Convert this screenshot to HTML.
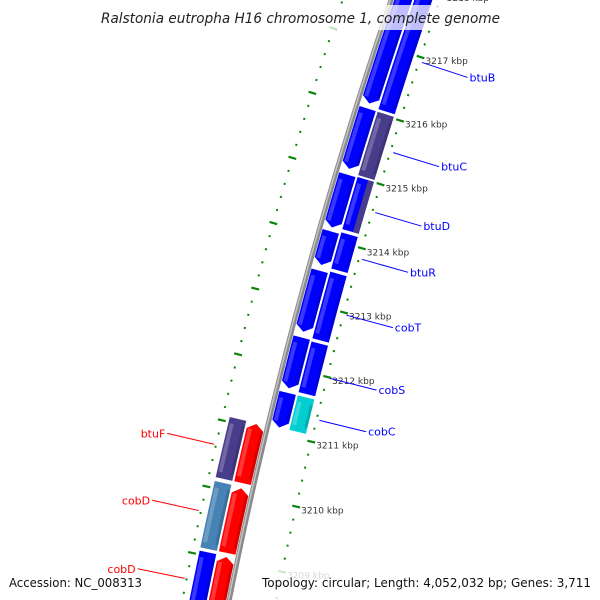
<!DOCTYPE html>
<html><head><meta charset="utf-8"><style>
html,body{margin:0;padding:0;background:#fff;overflow:hidden;}
svg{display:block;font-family:"DejaVu Sans","Liberation Sans",sans-serif;}
</style></head><body>
<svg id="map" width="600" height="600" viewBox="0 0 600 600" xmlns="http://www.w3.org/2000/svg">
<rect width="600" height="600" fill="#fff"/>
<g id="track"></g>
<g id="labels"></g>
<rect x="99" y="5" width="404" height="25" fill="#fff" opacity="0.75"/>
<text x="101" y="23" font-size="14" font-style="italic" fill="#222" textLength="399" lengthAdjust="spacingAndGlyphs">Ralstonia eutropha H16 chromosome 1, complete genome</text>
<rect x="250" y="566" width="350" height="34" fill="#fff" opacity="0.8"/>
<text x="9" y="587" font-size="12" fill="#111" textLength="133" lengthAdjust="spacingAndGlyphs">Accession: NC_008313</text>
<text x="262" y="587" font-size="12" fill="#111" textLength="329" lengthAdjust="spacingAndGlyphs">Topology: circular; Length: 4,052,032 bp; Genes: 3,711</text>
</svg>
<script>
// ---- data ----
const tickKbp = [3208, 3209, 3210, 3211, 3212, 3213, 3214, 3215, 3216, 3217, 3218];
const featStart = [3219, 3216.04, 3215.01, 3214.13, 3213.52, 3212.49, 3211.64,
                   3219, 3216.04, 3215.02, 3215.02, 3214.16, 3213.55, 3212.47, 3211.64,
                   3211.09, 3210.12, 3209.07,
                   3211.08, 3210.10, 3209.06];
const featEnd   = [3216.09, 3215.07, 3214.16, 3213.58, 3212.55, 3211.68, 3211.08,
                   3216.05, 3215.02, 3214.18, 3214.18, 3213.57, 3212.49, 3211.66, 3211.08,
                   3210.15, 3209.09, 3207.3,
                   3210.15, 3209.09, 3207.3];
const featSlot  = ["rIn","rIn","rIn","rIn","rIn","rIn","rIn",
                   "rOut","rOut","rOut","rOutStrip","rOut","rOut","rOut","rOut",
                   "lOut","lOut","lOut",
                   "lIn","lIn","lIn"];
const featColor = ["#0000ff","#0000ff","#0000ff","#0000ff","#0000ff","#0000ff","#0000ff",
                   "#0000ff","#483d8b","#0000ff","#483d8b","#0000ff","#0000ff","#0000ff","#00ced1",
                   "#483d8b","#4682b4","#0000ff",
                   "#ff0000","#ff0000","#ff0000"];
const labelNames = ["btuB","btuC","btuD","btuR","cobT","cobS","cobC","btuF","cobD","cobD"];
const labelKbp   = [3216.93, 3215.51, 3214.57, 3213.84, 3212.97, 3211.99, 3211.34, 3210.63, 3209.63, 3208.61];
const labelSide  = ["R","R","R","R","R","R","R","L","L","L"];

// ---- geometry (circular arc) ----
const NS = "http://www.w3.org/2000/svg";
const CX = 4943.5, CY = 1550, R0 = 4809, PHI0 = 0.32784;
const PX_PER_KBP = 67.3, V_REF = 110.7, K_REF = 3216;
function vOf(k) { return V_REF + (K_REF - k) * PX_PER_KBP; }
function P(u, v) {
  const phi = PHI0 - v / R0, r = R0 - u;
  return [CX - r * Math.cos(phi), CY - r * Math.sin(phi)];
}
function pstr(p) { return p[0].toFixed(2) + ',' + p[1].toFixed(2); }
const slotU = { rIn: [3, 20], rOut: [22, 39], rOutStrip: [33, 39], lIn: [-20, -3], lOut: [-39, -22] };
const track = document.getElementById('track');
const labels = document.getElementById('labels');
function mk(tag, attrs, parent) {
  const e = document.createElementNS(NS, tag);
  for (const k in attrs) e.setAttribute(k, attrs[k]);
  parent.appendChild(e);
  return e;
}
function band(u1, u2, v1, v2, tipStart, tipEnd) {
  const pts = [], n = Math.max(2, Math.ceil(Math.abs(v2 - v1) / 8));
  const uc = (u1 + u2) / 2;
  const a = v1 + (tipStart ? 6 : 0), b = v2 - (tipEnd ? 6 : 0);
  if (tipStart) pts.push(P(uc, v1));
  for (let i = 0; i <= n; i++) pts.push(P(u2, a + (b - a) * i / n));
  if (tipEnd) pts.push(P(uc, v2));
  for (let i = n; i >= 0; i--) pts.push(P(u1, a + (b - a) * i / n));
  return pts.map(pstr).join(' ');
}

// backbone
let bb = mk('polygon', { points: band(-2.5, 2.5, -60, 760, false, false), fill: '#8a8a8a' }, track);


mk('polygon', { points: band(-1.5, 0, -60, 760, false, false), fill: '#c4c4c4' }, track);

// rulers
[46, -46].forEach(function (ru) {
  const sign = ru > 0 ? 1 : -1;
  for (let m = Math.round(tickKbp[0] * 5); m <= Math.round(tickKbp[tickKbp.length - 1] * 5); m++) {
    const v = vOf(m / 5);
    const major = (m % 5 === 0);
    const a = P(major ? ru - 4 * sign : ru - 1 * sign, v), b = P(major ? ru + 4 * sign : ru + 1 * sign, v);
    const t = mk('line', { x1: a[0], y1: a[1], x2: b[0], y2: b[1], stroke: '#0a850a', 'stroke-width': major ? 2.2 : 2 }, track);
    
    
  }
});
tickKbp.forEach(function (k) {
  const p = P(48, vOf(k));
  const t = mk('text', { x: p[0] + 3, y: p[1] + 6.5, 'font-size': 9, fill: '#333' }, labels);
  
  
  t.textContent = k + ' kbp';
});

// features
for (let i = 0; i < featStart.length; i++) {
  const uu = slotU[featSlot[i]];
  const u1 = uu[0], u2 = uu[1];
  const v1 = vOf(featStart[i]) + 1, v2 = vOf(featEnd[i]) - 1;
  const g = mk('g', {}, track);
  
  
  mk('polygon', { points: band(u1, u2, v1, v2, featSlot[i] === 'lIn', featSlot[i] === 'rIn'), fill: featColor[i] }, g);
  if (featSlot[i] !== 'rOutStrip' && v2 - v1 > 14) {
    mk('polygon', { points: band(u1 + 1.5, u1 + 5.5, v1 + 6, v2 - 6, false, false), fill: '#fff', opacity: 0.22 }, g);
    mk('polygon', { points: band(u2 - 3, u2, v1 + 6, v2 - 6, false, false), fill: '#000', opacity: 0.15 }, g);
  }
}

// gene labels
for (let i = 0; i < labelNames.length; i++) {
  const v = vOf(labelKbp[i]);
  const R = labelSide[i] === 'R';
  const s = P(R ? 49 : -48, v), e = P(R ? 97 : -96, v);
  const col = R ? '#0000ff' : '#ff0000';
  const ln = mk('line', { x1: s[0], y1: s[1], x2: e[0], y2: e[1], stroke: col, 'stroke-width': 1 }, labels);
  
  
  const t = mk('text', { x: R ? e[0] + 2 : e[0] - 2, y: e[1] + 4, 'font-size': 11, fill: col, 'text-anchor': R ? 'start' : 'end' }, labels);
  
  
  t.textContent = labelNames[i];
}
</script>
</body></html>
